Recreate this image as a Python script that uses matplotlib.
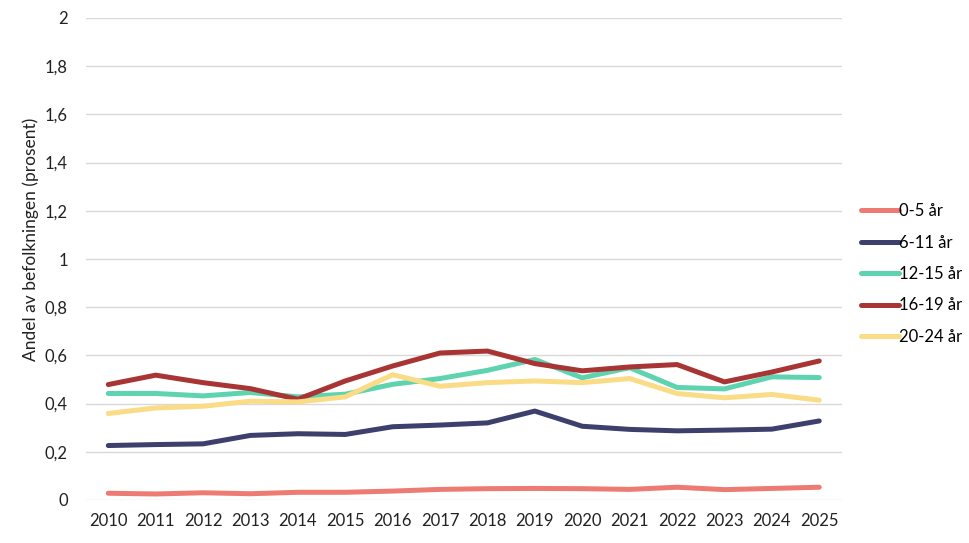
#!/usr/bin/python

import matplotlib
matplotlib.use('Agg')
import matplotlib.pyplot as plt


years = list(range(2010, 2026))

age_0_5 = [0.028, 0.025, 0.030, 0.026, 0.032, 0.032, 0.037, 0.044,
           0.047, 0.048, 0.047, 0.044, 0.053, 0.043, 0.048, 0.053]
age_6_11 = [0.226, 0.230, 0.233, 0.268, 0.275, 0.272, 0.304, 0.311,
            0.320, 0.369, 0.306, 0.293, 0.287, 0.290, 0.294, 0.328]
age_12_15 = [0.442, 0.442, 0.432, 0.446, 0.428, 0.439, 0.480, 0.504,
             0.538, 0.583, 0.507, 0.549, 0.467, 0.461, 0.511, 0.508]
age_16_19 = [0.479, 0.518, 0.487, 0.462, 0.418, 0.494, 0.556, 0.610,
             0.618, 0.566, 0.536, 0.552, 0.562, 0.490, 0.531, 0.577]
age_20_24 = [0.359, 0.382, 0.389, 0.410, 0.407, 0.428, 0.520, 0.472,
             0.487, 0.494, 0.487, 0.504, 0.442, 0.424, 0.438, 0.414]

series_labels = ['0-5 år', '6-11 år', '12-15 år', '16-19 år', '20-24 år']
y_ticks = [0, 0.2, 0.4, 0.6, 0.8, 1.0, 1.2, 1.4, 1.6, 1.8, 2.0]
y_tick_labels = ['0', '0,2', '0,4', '0,6', '0,8', '1', '1,2', '1,4', '1,6', '1,8', '2']
ylabel = 'Andel av befolkningen (prosent)'

colors = ['#EE7B73', '#3D3F6C', '#5ED3AF', '#A83533', '#FADB86']


def main():
    plt.rcParams['font.family'] = ['Lato', 'DejaVu Sans']

    fig = plt.figure(figsize=(9.7, 5.43), dpi=100)
    ax = fig.add_axes([86 / 970, 1 - 500 / 543, 756 / 970, 482 / 543])

    data = [age_0_5, age_6_11, age_12_15, age_16_19, age_20_24]
    for values, label, color in zip(data, series_labels, colors):
        ax.plot(years, values, color=color, label=label, linewidth=3.6,
                solid_capstyle='round', solid_joinstyle='round', zorder=3)

    ax.set_xlim(years[0] - 0.47, years[-1] + 0.48)
    ax.set_ylim(0, 2)
    ax.set_xticks(years)
    ax.set_xticklabels([str(y) for y in years])
    ax.set_yticks(y_ticks)
    ax.set_yticklabels(y_tick_labels)
    ax.tick_params(axis='both', length=0, labelsize=12, colors='#222222')
    ax.tick_params(axis='x', pad=9)
    ax.tick_params(axis='y', pad=13)

    ax.grid(axis='y', color='#D9D9D9', linewidth=1)
    ax.set_axisbelow(True)
    for s in ax.spines.values():
        s.set_visible(False)

    ax.set_ylabel(ylabel, fontsize=12.5, color='#222222')
    ax.yaxis.set_label_coords(-0.062, 0.54)

    ax.legend(loc='upper left', bbox_to_anchor=(861 / 970, 1 - 203 / 543),
              bbox_transform=fig.transFigure, frameon=False, fontsize=12,
              handlelength=2.3, handletextpad=0.0, labelspacing=0.93,
              borderpad=0, borderaxespad=0)

    fig.savefig('out.png', dpi=100)


if __name__ == '__main__':
    main()
